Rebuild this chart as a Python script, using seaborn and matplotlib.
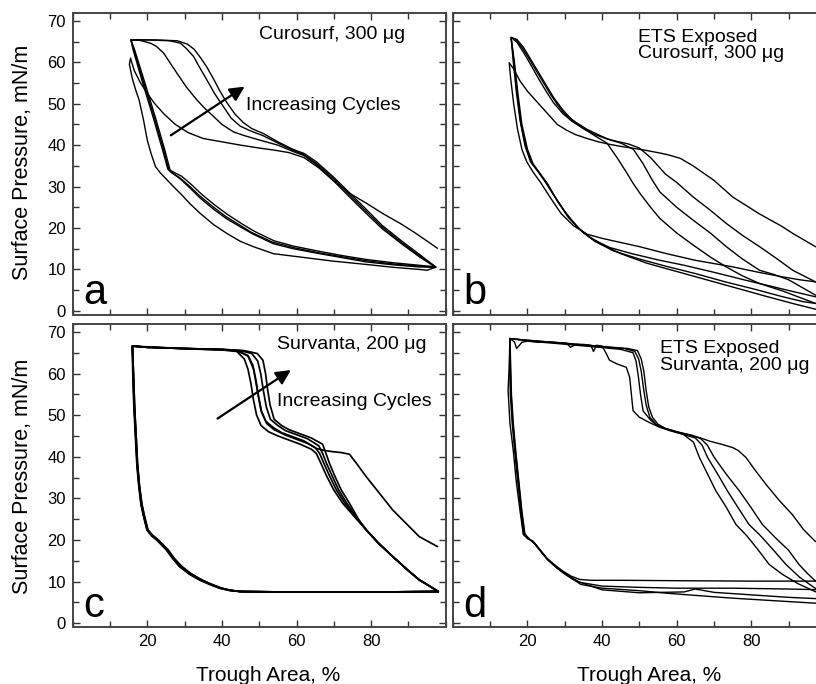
import matplotlib
matplotlib.use("Agg")
import matplotlib.pyplot as plt
import seaborn as sns
from matplotlib.ticker import MultipleLocator

# ---------------- panel a : Curosurf, 300 ug ----------------
a1_x = [97.8, 92, 88, 83.1, 78.7, 74.2, 69.8, 66, 62, 58, 54, 50, 45, 40, 35, 31, 27.5, 24.5, 22, 20, 18.2, 16.5, 15.5,
        15.2, 16, 17, 17.8, 19, 20, 21, 22.2, 23.5, 25.3, 27, 28.9, 31.5, 34.2, 37.8, 41.3, 44.9, 48.4, 53.8, 60.9,
        69.8, 78.7, 86, 92.9, 95, 97.3]
a1_y = [15.1, 18.7, 21, 23.5, 26, 28.4, 31.5, 34.5, 37, 38.2, 38.8, 39.3, 40, 40.8, 41.6, 43, 45, 47.5, 50, 52.5, 55, 58,
        61,
        59.5, 56, 53, 50.9, 46, 41.2, 38, 34.8, 33.3, 31.6, 30, 28.3, 25.8, 23.5, 20.8, 18.7, 16.8, 15.5, 13.8, 13,
        12, 11.2, 10.5, 10, 9.8, 10.5]
a2_x = [97.3, 93, 88, 83, 78.7, 74.2, 69.8, 65.3, 62, 59, 55, 50.2, 46, 43.1, 40, 37.8, 35.5, 33.3, 30.5, 28, 26, 24.4,
        22.5, 20.9, 18, 15.6,
        16.4, 19.1, 21.8, 24.4, 25.8, 26.5, 28.9, 31.5, 34.2, 37.8, 41.3, 44.9, 48.4, 53.8, 59.1, 66.2, 72.5, 78.7,
        86, 92.9, 97.3]
a2_y = [10.5, 13, 16.3, 19.8, 23.5, 27.5, 31.5, 35.3, 37.5, 38.5, 40, 41.2, 42.3, 43.2, 45, 46.9, 48.8, 50.9, 54, 57.3,
        60, 62.2, 63.8, 64.6, 65.3, 65.4,
        63, 54.9, 46.9, 38.8, 34, 33.4, 31.8, 29.6, 27.2, 24.5, 22.2, 20.3, 18.5, 16.2, 15, 13.8, 12.8, 11.8, 11.1,
        10.6, 10.5]
a3_x = [97.3, 93, 88, 83, 78.7, 74.2, 69.8, 65.3, 62, 59, 55, 51, 47.5, 44.9, 42.5, 40.4, 38, 36, 34, 32.4, 30.5, 28.9,
        26, 20, 15.6,
        16.2, 18.8, 21.5, 24.1, 25.5, 26.3, 28.6, 31.2, 34, 37.5, 41, 44.6, 48, 53.5, 59, 66, 72.5, 78.7, 86, 92.9,
        97.3]
a3_y = [10.6, 13.3, 16.6, 20.2, 24, 28, 32, 35.6, 37.7, 38.8, 40.5, 42.3, 43.5, 44.6, 46.5, 49.3, 52.5, 55.7, 58.8,
        61.4, 63.3, 64.6, 65.2, 65.4, 65.4,
        63, 54.9, 46.9, 38.8, 34.2, 33.5, 32.2, 30.2, 27.8, 25.2, 22.8, 20.8, 18.9, 16.6, 15.3, 14, 13, 12.1, 11.3,
        10.8, 10.6]
a4_x = [97.3, 93, 88, 83, 78.7, 74.2, 69.8, 65.3, 62, 59, 55, 51.1, 48, 45.8, 43.5, 41.3, 39.5, 37.8, 36, 34.2, 32.5,
        30.7, 28, 22, 15.6,
        16.6, 19.4, 22.1, 24.7, 26.1, 26.8, 29.2, 31.8, 34.5, 38, 41.6, 45.2, 48.7, 54, 59.3, 66.5, 72.5, 78.7, 86,
        92.9, 97.3]
a4_y = [10.6, 13.6, 17, 20.6, 24.5, 28.5, 32.4, 36, 38, 39, 40.8, 42.8, 44, 45.4, 47.5, 50.3, 53, 55.9, 58.8, 61.2,
        63.2, 64.4, 65.2, 65.4, 65.4,
        63, 54.9, 46.9, 38.8, 34, 33.6, 32.5, 30.5, 28.2, 25.6, 23.2, 21.1, 19.2, 16.9, 15.6, 14.3, 13.3, 12.4, 11.6,
        11, 10.6]

# ---------------- panel b : ETS exposed Curosurf ----------------
b1_x = [99.5, 97.2, 91.1, 88, 82, 75, 70, 64.4, 61, 58, 55.5, 52, 48, 45, 42, 39, 36, 33, 30.5, 28, 26, 24, 22.5, 20,
        18, 16.2, 15.1,
        15.5, 16.3, 17.3, 18.5, 19.8, 21.5, 23.5, 26, 29, 32.4, 36, 40, 45, 50, 57.3, 65, 75.1, 82, 88.4, 93, 97.2,
        99.5]
b1_y = [14.8, 15.5, 18.7, 20.5, 23.5, 27.5, 31.5, 35, 36.8, 37.6, 38.1, 38.7, 39.3, 39.7, 40.2, 40.8, 41.6, 42.5, 43.6,
        45, 47, 49, 50.5, 53, 55.5, 58.5, 59.9,
        56, 50, 44, 39, 36, 33.5, 31, 27.5, 23.5, 20.5, 18.5, 17.5, 16.5, 15.5, 13.8, 12.2, 10.6, 9.3, 8.2, 7.5, 7,
        6.6]
b2_x = [99.5, 97.2, 91.1, 87, 82.2, 77.5, 73.3, 69, 64.4, 60, 57, 55.5, 53, 50, 47, 44, 41, 38, 35, 32, 29.5, 27, 25,
        23, 21, 19, 17.2, 15.6,
        16.2, 17, 18, 19.3, 20.8, 22.5, 24.5, 27, 30, 33, 37, 42, 48, 55, 62, 70, 78, 85, 91, 97.2, 99.5]
b2_y = [6.6, 7, 9.8, 12.5, 15.5, 18.3, 21.1, 24.3, 27.5, 31, 33, 34.5, 37, 39.3, 40.3, 40.9, 41.6, 42.6, 44, 45.7, 47.6,
        50.2, 53, 56, 59.2, 62.3, 64.8, 66,
        60, 53, 46, 40, 36, 34, 31.5, 28, 24, 20.5, 17.5, 15.3, 13.8, 12.3, 11, 9.3, 7.5, 6, 4.7, 3.4, 3]
b3_x = [99.5, 97.2, 90, 86, 82.2, 77.5, 73.3, 69, 64.4, 60, 55.5, 53.5, 51, 48.4, 45, 42, 39, 36, 33, 30, 28, 26, 24, 22,
        20, 18.2, 16.8, 15.6,
        16.4, 17.3, 18.3, 19.7, 21.3, 23, 25, 27.5, 30.5, 34, 38, 43, 50, 57, 65, 73, 81, 88, 94, 97.2, 99.5]
b3_y = [3.4, 3.8, 7.5, 8.8, 9.8, 12.6, 15.5, 18.8, 21.9, 25, 28.7, 31.5, 35.5, 39, 40.5, 41.3, 42.5, 43.8, 45.5, 47.5,
        49.8, 52.5, 55.5, 58.5, 61.5, 64, 65.5, 66,
        60, 52, 45, 39, 35.5, 33.5, 31, 27.3, 23.3, 19.7, 16.8, 14.5, 12.5, 10.8, 9, 7, 5.2, 3.5, 2.2, 1.8, 1.5]
b4_x = [99.5, 97.2, 92.5, 88.4, 82.2, 77.5, 73.3, 69, 64.4, 60, 55.5, 53, 50.2, 48.3, 46.7, 44, 41.3, 38, 35, 32, 29.5,
        27, 25, 23, 21, 19, 17.2, 15.6,
        16.5, 17.5, 18.5, 20, 21.5, 23.5, 25.5, 28, 31, 35, 39.6, 45, 52, 60, 68, 76, 84, 91, 97.2, 99.5]
b4_y = [1.5, 1.8, 3.4, 4.8, 6.6, 8.5, 10.6, 13, 15.9, 18.8, 22.3, 25, 28.3, 30.8, 33.2, 37, 40.5, 42.3, 44, 46, 48.5,
        51.5, 54.5, 57.5, 60.5, 63.5, 65.5, 66,
        60, 52, 45, 39, 35.5, 33, 30.5, 26.5, 22.5, 18.8, 16.2, 13.8, 11.5, 9.5, 7.5, 5.5, 3.5, 1.8, 0.4, 0.2]

# ---------------- panel c : Survanta, 200 ug ----------------
c1_x = [97.8, 92.9, 85.8, 78.7, 76, 74.2, 72, 69.8, 67.5, 65.3, 63, 60, 57, 54, 52, 50.5, 49.5, 48.5, 47, 44, 35, 25,
        18, 16,
        16.2, 16.5, 16.9, 17.3, 17.8, 18.4, 19.1, 20, 21.3, 22.7, 24, 25.3, 27, 28.9, 31.5, 34.2, 37, 39.6, 42, 44.9,
        55, 70, 85, 98]
c1_y = [18.4, 20.8, 27.2, 35.2, 38.5, 40.6, 41, 41.2, 41.5, 42, 43.2, 44.2, 45.2, 46.5, 48, 51, 56, 61, 64.2, 65.5,
        65.8, 66.2, 66.5, 66.6,
        60, 52, 45, 38, 33, 28.5, 25.6, 22.4, 21, 20, 18.8, 17.6, 15.5, 13.6, 11.8, 10.4, 9.3, 8.4, 7.9, 7.6,
        7.5, 7.5, 7.5, 7.6]
c2_x = [98, 95.5, 92.9, 89.5, 85.8, 82, 78.7, 75.5, 72.4, 70, 68, 66.5, 65.3, 64, 61, 58, 55, 52.5, 50.5, 49.3, 48.5,
        47.8, 47, 46, 44, 40, 30, 20, 16,
        16.3, 16.6, 17, 17.4, 17.9, 18.6, 19.3, 20.2, 21.5, 22.9, 24.3, 25.6, 27.3, 29.3, 31.8, 34.5, 37.3, 39.9,
        42.3, 45, 55, 70, 85, 98]
c2_y = [7.6, 9, 10.4, 13, 16, 19.2, 22.4, 25.6, 28.8, 32, 35.5, 38.5, 40.8, 41.8, 43, 44, 45, 46, 47.5, 50, 53.5, 57.5,
        61, 63.5, 65.3, 65.7, 66, 66.3, 66.6,
        60, 52, 45, 38, 33, 28.5, 25.6, 22.4, 21, 20, 18.8, 17.6, 15.5, 13.6, 11.8, 10.4, 9.3, 8.4, 7.9, 7.6,
        7.5, 7.5, 7.5, 7.6]
c3_x = [98, 95.5, 92.9, 89.5, 85.8, 82, 78.7, 76, 73, 70.7, 68.8, 67.3, 66.2, 65, 62, 59, 56, 53.8, 51.8, 50.6, 49.8,
        49.1, 48.3, 47, 44.5, 40, 30, 20, 16,
        16.1, 16.4, 16.8, 17.2, 17.7, 18.3, 19, 19.9, 21.1, 22.5, 23.8, 25.1, 26.8, 28.6, 31.2, 33.9, 36.7, 39.3,
        41.8, 44.7, 55, 70, 85, 98]
c3_y = [7.6, 9, 10.4, 13, 16, 19.2, 22.4, 25.3, 28.8, 32, 35.5, 38.5, 40.8, 42.2, 43.8, 44.8, 45.8, 47, 48.5, 51, 54.5,
        58.5, 62, 64.3, 65.4, 65.8, 66, 66.3, 66.6,
        60, 52, 45, 38, 33, 28.5, 25.6, 22.4, 21, 20, 18.8, 17.6, 15.5, 13.6, 11.8, 10.4, 9.3, 8.4, 7.9, 7.6,
        7.5, 7.5, 7.5, 7.6]
c4_x = [98, 95.5, 92.9, 89.5, 85.8, 82, 78.7, 76.3, 73.5, 71.3, 69.5, 68, 67, 66, 63, 60, 57, 55, 53, 51.9, 51.1, 50.4,
        49.6, 48, 45, 40, 30, 20, 16,
        16.2, 16.5, 16.9, 17.3, 17.8, 18.4, 19.1, 20, 21.3, 22.7, 24, 25.3, 27, 28.9, 31.5, 34.2, 37, 39.6, 42, 44.9,
        55, 70, 85, 98]
c4_y = [7.6, 9, 10.4, 13, 16, 19.2, 22.4, 25.2, 28.8, 32, 35.5, 38.5, 40.8, 42.6, 44.3, 45.3, 46.3, 47.5, 49, 52, 56,
        60, 63, 64.8, 65.5, 65.8, 66, 66.3, 66.6,
        60, 52, 45, 38, 33, 28.5, 25.6, 22.4, 21.2, 20.2, 19, 17.8, 15.7, 13.8, 12, 10.6, 9.4, 8.5, 7.9, 7.6,
        7.5, 7.5, 7.5, 7.6]
c5_x = [98, 95.5, 92.9, 89.5, 85.8, 82, 78.7, 76.6, 74.2, 72, 70.2, 68.8, 67.9, 67, 64, 61, 58, 56, 54, 52.9, 52.2,
        51.7, 51, 49.5, 46, 40, 30, 20, 16,
        16.3, 16.6, 17, 17.4, 17.9, 18.5, 19.2, 20.1, 21.4, 22.8, 24.1, 25.4, 27.1, 29, 31.6, 34.3, 37.1, 39.7, 42.1,
        45, 55, 70, 85, 98]
c5_y = [7.6, 9, 10.4, 13, 16, 19.2, 22.4, 25, 28.8, 32, 35.5, 38.5, 40.8, 43, 44.5, 45.5, 46.5, 47.5, 49, 52.5, 56.5,
        60, 63.2, 64.8, 65.5, 65.8, 66, 66.3, 66.6,
        60, 52, 45, 38, 33, 28.5, 25.6, 22.4, 21, 20, 18.8, 17.6, 15.5, 13.6, 11.8, 10.4, 9.3, 8.4, 7.9, 7.6,
        7.5, 7.5, 7.5, 7.6]

# ---------------- panel d : ETS exposed Survanta ----------------
d1_x = [99.5, 97.1, 92.5, 88.4, 84.8, 82.1, 78.8, 75.9, 73.2, 70.5, 68.3, 66.1, 64.5, 61.6, 58.5, 55.4, 52.5, 50, 48.9,
        48.3, 47.8, 47.4, 46.5, 44, 42, 41, 40, 38.5, 37.7, 37, 35, 33, 31.5, 30.5, 27, 23, 20, 18.5, 17.1, 16.5, 15.3,
        15.1, 14.8, 15.3, 16.2, 17, 18, 18.9, 20, 21.5, 23.3, 25.1, 27.3, 29.5, 31.7, 34, 37, 45, 60, 80, 99.5]
d1_y = [6.8, 7.6, 9.5, 11.7, 14.1, 17.3, 21, 23.7, 28, 31.8, 35.8, 39.8, 43.5, 45.5, 46.3, 47.1, 48.3, 49.5, 50.5,
        51.1, 55.5, 59.1, 61.5, 62.3, 63.2, 65, 66.6, 66.8, 65.3, 66.8, 67, 67, 66.3, 67.3, 67.5, 67.5, 67.8, 67.5, 66,
        67.6, 68.4,
        62, 55.9, 48, 41.4, 34, 27, 21.3, 20.3, 19.7, 17.7, 15.7, 14, 12.5, 11.3, 10.5, 10.3, 10.3, 10.2, 10.1, 10.1]
d2_x = [99.5, 97.1, 95, 92.8, 90, 86.5, 83, 80, 76.8, 73.3, 70.1, 68.2, 66.5, 64, 60, 57, 54.5, 52.8, 51.8, 51.1, 50.5,
        49.8, 48.8, 46, 38, 28, 20, 15.3,
        15.2, 15.4, 15.9, 16.6, 17.4, 18.2, 18.9, 20, 21.5, 23.3, 25.1, 27.3, 29.5, 31.7, 34, 40, 50, 60, 75, 90, 99.5]
d2_y = [9.8, 10.2, 12, 14.1, 17.5, 20.5, 23.7, 27.7, 31.8, 35.8, 39.8, 42.8, 44.3, 45.2, 46, 46.8, 47.8, 49.5, 52.5,
        56.5, 60.5, 63.5, 65.3, 66, 66.6, 67.4, 68, 68.4,
        62, 55, 48, 41, 34, 27, 21.5, 20.5, 19.5, 17.5, 15.5, 13.8, 12.3, 11, 9.8, 8.9, 8.6, 8.4, 8.4, 8.2, 8]
d3_x = [99.5, 97.1, 93, 89.3, 86, 82.5, 79.4, 76.5, 73.6, 71, 68.3, 66.8, 65, 62, 58, 55, 53, 51, 50.3, 49.7, 49.1,
        48.3, 45, 38, 28, 20, 15.3,
        15.4, 15.6, 16.1, 16.8, 17.6, 18.4, 19.2, 20.3, 21.8, 23.6, 25.4, 27.6, 29.8, 32, 34.3, 40, 50, 57.2, 66, 75,
        86, 97.1, 99.5]
d3_y = [7.9, 8.4, 11, 14.1, 17.5, 21, 23.7, 27.7, 31.8, 35.8, 39.8, 42.8, 44.5, 45.3, 46.3, 47.3, 48.8, 51, 55, 59.5,
        63, 65, 65.8, 66.4, 67.2, 67.8, 68.4,
        62, 55, 48, 41, 34, 27, 21.5, 20.3, 19.3, 17.3, 15.3, 13.5, 12, 10.7, 9.3, 8.4, 7.8, 7.2, 6.6, 6, 5.4, 4.8,
        4.7]
d4_x = [99.5, 97.1, 94, 91, 87.5, 83.9, 81, 78.6, 76.5, 75, 72, 69, 66.1, 63, 60, 57, 55, 53.5, 52.5, 51.8, 51.2, 50.5,
        49.5, 47, 40, 30, 20, 15.3,
        15.5, 15.7, 16.2, 16.9, 17.7, 18.5, 19.3, 20.5, 22, 23.8, 25.6, 27.8, 30, 32.2, 34.5, 40, 50, 62, 65, 70, 80,
        90, 99.5]
d4_y = [18.5, 19.7, 22.5, 26.1, 29.5, 33.4, 36.8, 39.8, 41.5, 42.2, 43, 43.7, 44.6, 45.3, 46, 46.8, 47.8, 49.5, 52, 56,
        60.5, 63.5, 65.5, 66, 66.5, 67.3, 68, 68.4,
        62, 55, 48, 41, 34, 27, 21.5, 20.2, 19.1, 17.1, 15.1, 13.3, 11.8, 10.5, 9.7, 8, 7.3, 7.5, 8.2, 7.4, 6.8,
        6.2, 5.8]

panels = {
    "a": [(a1_x, a1_y), (a2_x, a2_y), (a3_x, a3_y), (a4_x, a4_y)],
    "b": [(b1_x, b1_y), (b2_x, b2_y), (b3_x, b3_y), (b4_x, b4_y)],
    "c": [(c1_x, c1_y), (c2_x, c2_y), (c3_x, c3_y), (c4_x, c4_y), (c5_x, c5_y)],
    "d": [(d1_x, d1_y), (d2_x, d2_y), (d3_x, d3_y), (d4_x, d4_y)],
}
labels = {
    "a": "Curosurf, 300 \u03bcg",
    "b": "ETS Exposed\nCurosurf, 300 \u03bcg",
    "c": "Survanta, 200 \u03bcg",
    "d": "ETS Exposed\nSurvanta, 200 \u03bcg",
}
label_pos = {"a": (50, 66.6), "b": (49.5, 64), "c": (54.9, 67), "d": (55.4, 64)}

sns.set_style("white")
plt.rcParams['font.family'] = ['Liberation Sans', 'DejaVu Sans']
plt.rcParams['text.color'] = 'black'
plt.rcParams['xtick.color'] = 'black'
plt.rcParams['ytick.color'] = 'black'

fig = plt.figure(figsize=(8.16, 6.84), dpi=100)
w = 0.4571
rects = {
    "a": [0.0891, 0.5395, w, 0.4415],
    "b": [0.5550, 0.5395, w, 0.4415],
    "c": [0.0891, 0.0829, w, 0.4434],
    "d": [0.5550, 0.0829, w, 0.4434],
}

for key, curves in panels.items():
    ax = fig.add_axes(rects[key])
    lw = 1.25 if key == "c" else 1.0
    for xs, ys in curves:
        sns.lineplot(x=xs, y=ys, sort=False, estimator=None, color="black", linewidth=lw, ax=ax)
    ax.set_xlim(0, 100)
    ax.set_ylim(-1, 71.9)
    ax.xaxis.set_major_locator(MultipleLocator(20))
    ax.xaxis.set_minor_locator(MultipleLocator(10))
    ax.yaxis.set_major_locator(MultipleLocator(10))
    ax.yaxis.set_minor_locator(MultipleLocator(5))
    ax.tick_params(which="both", direction="in", top=True, right=True, bottom=True, left=True,
                   color="#333333", width=1.0, labelsize=12)
    ax.tick_params(which="major", length=5, pad=5)
    ax.tick_params(which="minor", length=4)
    for sp in ax.spines.values():
        sp.set_color("#444444")
        sp.set_linewidth(1.4)
    if key in ("a", "b"):
        ax.set_xticklabels([])
    else:
        ax.set_xticks([20, 40, 60, 80])
        ax.set_xticklabels(["20", "40", "60", "80"])
    if key in ("b", "d"):
        ax.set_yticklabels([])
    ax.set_xlabel("")
    ax.set_ylabel("")
    ax.text(0.028, 0.035, key, transform=ax.transAxes, fontsize=30, va="baseline", ha="left")
    tx, ty = label_pos[key]
    ax.text(tx, ty, labels[key], fontsize=14, ha="left", va="center", linespacing=0.95)
    if key == "a":
        ax.annotate("", xy=(46.7, 54.5), xytext=(25.7, 42),
                    arrowprops=dict(arrowstyle="-|>", lw=1.6, color="black", mutation_scale=22))
        ax.text(46.4, 49.5, "Increasing Cycles", fontsize=14, ha="left", va="center")
    if key == "c":
        ax.annotate("", xy=(59.1, 61.2), xytext=(38.2, 48.8),
                    arrowprops=dict(arrowstyle="-|>", lw=1.6, color="black", mutation_scale=22))
        ax.text(54.9, 53.2, "Increasing Cycles", fontsize=14, ha="left", va="center")

fig.text(0.0276, 0.762, "Surface Pressure, mN/m", rotation=90, fontsize=15.5, ha="center", va="center")
fig.text(0.0276, 0.303, "Surface Pressure, mN/m", rotation=90, fontsize=15.5, ha="center", va="center")
fig.text(0.3284, 0.0265, "Trough Area, %", fontsize=15, ha="center", va="top")
fig.text(0.7953, 0.0265, "Trough Area, %", fontsize=15, ha="center", va="top")

fig.savefig("out.png", dpi=100)
